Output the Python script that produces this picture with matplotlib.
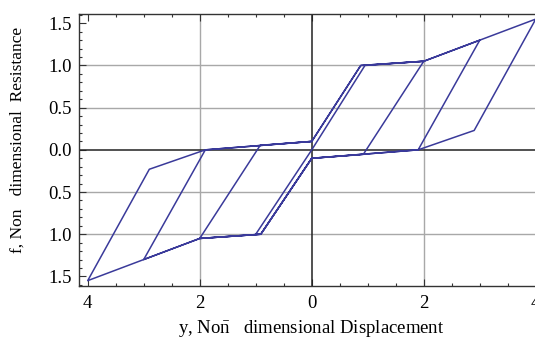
import matplotlib
matplotlib.use("Agg")
import matplotlib.pyplot as plt
from matplotlib.ticker import FixedLocator, MultipleLocator

plt.rcParams['font.family'] = ['Liberation Serif', 'DejaVu Serif']
plt.rcParams['mathtext.fontset'] = 'custom'
plt.rcParams['mathtext.rm'] = 'Liberation Serif'

# === loading path: displacement y, resistance f ===
y_disp = [-1.0, 0.0, 0.95, 2.0, 0.92, 0.0, -0.91, -2.0, -0.92, 0.0, 0.875,
          2.0, 3.0, 1.9, 0.0, -0.91, -2.0, -3.0, -1.9, 0.0, 0.875, 2.0, 3.0,
          4.0, 2.9, 1.9, 0.0, -0.91, -2.0, -3.0, -4.0, -2.9, -1.9, 0.0]
f_res = [-1.0, 0.0, 1.0, 1.05, -0.054, -0.1, -1.0, -1.05, 0.054, 0.1, 1.0,
         1.05, 1.3, 0.0, -0.1, -1.0, -1.05, -1.3, 0.0, 0.1, 1.0, 1.05, 1.3,
         1.55, 0.23, 0.0, -0.1, -1.0, -1.05, -1.3, -1.55, -0.23, 0.0, 0.1]

# ticks (minus signs lost in the original)
x_ticks = [-4, -2, 0, 2, 4]
x_labels = ['4', '2', '0', '2', '4']
y_ticks = [-1.5, -1.0, -0.5, 0.0, 0.5, 1.0, 1.5]
y_labels = ['1.5', '1.0', '0.5', '0.0', '0.5', '1.0', '1.5']
grid_x = [-2, 2]
grid_y = [-1.0, -0.5, 0.5, 1.0]

fig = plt.figure(figsize=(5.35, 3.38), dpi=100)
ax = fig.add_axes([0.1477, 0.1547, 0.870, 0.8039])

for gx in grid_x:
    ax.axvline(gx, color='#a8a8a8', lw=1.0, zorder=1)
for gy in grid_y:
    ax.axhline(gy, color='#a8a8a8', lw=1.0, zorder=1)
ax.axhline(0, color='#222222', lw=1.1, zorder=2)
ax.axvline(0, color='#222222', lw=1.1, zorder=2)

ax.plot(y_disp, f_res, color='#3a3a9a', lw=1.1, zorder=3)

ax.set_xlim(-4.155, 4.155)
ax.set_ylim(-1.61, 1.61)

ax.xaxis.set_major_locator(FixedLocator(x_ticks))
ax.set_xticklabels(x_labels)
ax.yaxis.set_major_locator(FixedLocator(y_ticks))
ax.set_yticklabels(y_labels)
ax.xaxis.set_minor_locator(MultipleLocator(0.5))
ax.yaxis.set_minor_locator(MultipleLocator(0.1))

ax.tick_params(which='both', direction='in', top=True, right=True,
               color='#333333', width=0.8)
ax.tick_params(which='major', length=5, labelsize=13.5)
ax.tick_params(axis='x', which='major', pad=7)
ax.tick_params(axis='y', which='major', pad=5)
ax.tick_params(which='minor', length=2.5)

for s in ax.spines.values():
    s.set_color('#333333')
    s.set_linewidth(1.0)

ax.set_xlabel(r'y, No$\bar{\mathrm{n}}$   dimensional Displacement', fontsize=13.5)
ax.set_ylabel('f, Non   dimensional  Resistance', fontsize=12.5)
ax.xaxis.set_label_coords(0.498, -0.118)
ax.yaxis.set_label_coords(-0.114, 0.536)

plt.savefig('out.png', dpi=100)
